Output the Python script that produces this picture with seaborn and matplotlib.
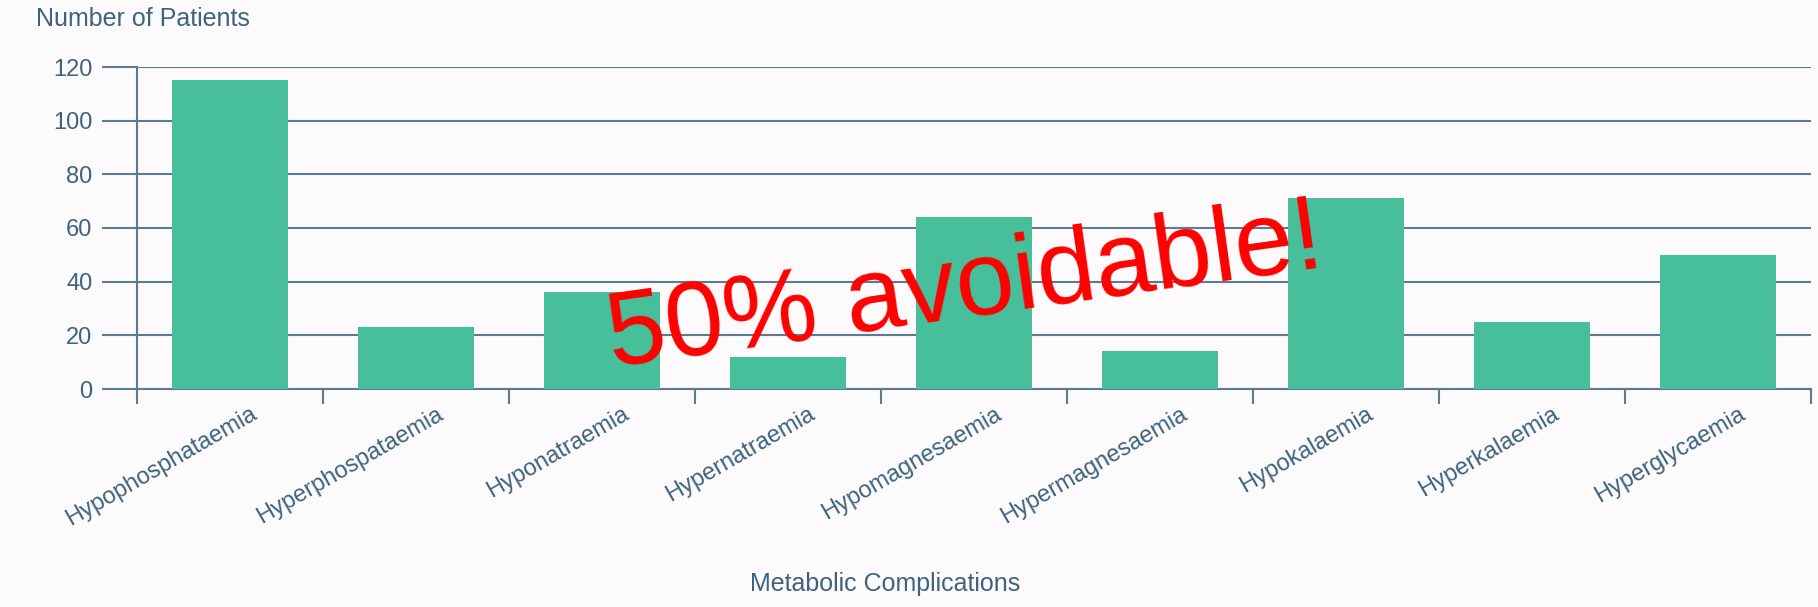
import matplotlib
matplotlib.use("Agg")
import matplotlib.pyplot as plt
import matplotlib.transforms as mtransforms
from matplotlib import font_manager
import seaborn as sns
import pandas as pd

complications = [
    "Hypophosphataemia", "Hyperphospataemia", "Hyponatraemia",
    "Hypernatraemia", "Hypomagnesaemia", "Hypermagnesaemia",
    "Hypokalaemia", "Hyperkalaemia", "Hyperglycaemia",
]
patients = [115, 23, 36, 12, 64, 14, 71, 25, 50]
y_ticks = [0, 20, 40, 60, 80, 100, 120]

BG = "#fcfafa"
BAR = "#47bf9b"
LINE = "#5d7b90"
TEXT = "#3d6381"

sns.set_style("white")
plt.rcParams["font.family"] = ["Liberation Sans", "DejaVu Sans"]

# a condensed face for the big red note, if one is available
installed = {f.name for f in font_manager.fontManager.ttflist}
if "Liberation Sans Narrow" in installed:
    note_family, note_size = ["Liberation Sans Narrow", "Liberation Sans"], 88
else:
    note_family, note_size = ["Liberation Sans", "DejaVu Sans"], 76

df = pd.DataFrame({"complication": complications, "patients": patients})

fig = plt.figure(figsize=(18.18, 6.07), dpi=100, facecolor=BG)
ax = fig.add_axes([137 / 1818, 1 - 389 / 607, (1811 - 137) / 1818, (389 - 67) / 607])
ax.set_facecolor(BG)

sns.barplot(data=df, x="complication", y="patients", color=BAR,
            width=0.62, saturation=1, linewidth=0, edgecolor=BAR,
            ax=ax, zorder=3)

ax.set_xlim(-0.5, len(complications) - 0.5)
ax.set_ylim(0, 120)
ax.set_yticks(y_ticks)
ax.yaxis.grid(True, color=LINE, linewidth=1.5, zorder=0)
ax.xaxis.grid(False)
ax.set_axisbelow(True)

for side in ("top", "right"):
    ax.spines[side].set_visible(False)
for side in ("left", "bottom"):
    ax.spines[side].set_color(LINE)
    ax.spines[side].set_linewidth(1.5)

# y ticks run left of the axis like extended gridlines
ax.tick_params(axis="y", which="major", left=True, direction="out", length=25,
               width=1.5, color=LINE, labelcolor=TEXT, labelsize=17, pad=7)

# category boundaries get tick marks, category centres get the labels
ax.set_xticks([i - 0.5 for i in range(len(complications) + 1)], minor=True)
ax.tick_params(axis="x", which="minor", bottom=True, direction="out",
               length=11, width=1.5, color=LINE)
ax.tick_params(axis="x", which="major", bottom=True, length=0, pad=10,
               labelcolor=TEXT, labelsize=17)
offset = mtransforms.ScaledTranslation(20 / 100, 0, fig.dpi_scale_trans)
for lbl in ax.get_xticklabels():
    lbl.set_rotation(30)
    lbl.set_ha("right")
    lbl.set_va("top")
    lbl.set_rotation_mode("anchor")
    lbl.set_transform(lbl.get_transform() + offset)

ax.set_xlabel("")
ax.set_ylabel("")

fig.text(36 / 1818, 1 - 26 / 607, "Number of Patients", color=TEXT,
         fontsize=18, ha="left", va="baseline")
fig.text(885 / 1818, 1 - 591 / 607, "Metabolic Complications", color=TEXT,
         fontsize=18, ha="center", va="baseline")

ax.text(3.97, 27, "50% avoidable!", color="#ff0000", fontsize=note_size,
        family=note_family, rotation=8, ha="center", va="baseline",
        rotation_mode="anchor", zorder=5)

fig.savefig("out.png", dpi=100, facecolor=BG)
